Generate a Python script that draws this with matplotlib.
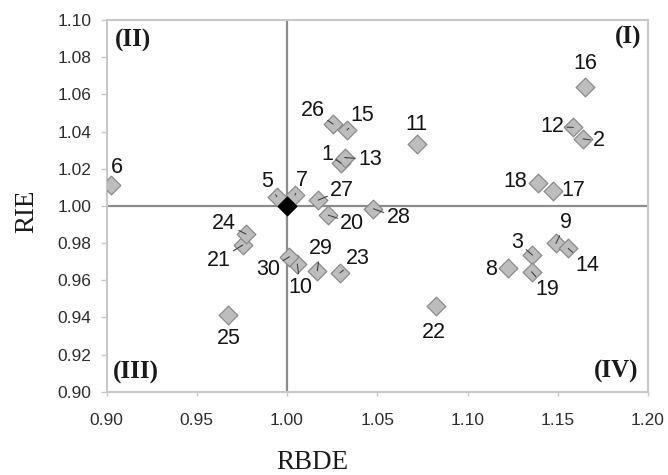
import numpy as np
import matplotlib
matplotlib.use('Agg')
import matplotlib.pyplot as plt

# ── data ───────────────────────────────────────────────────────
labels = ['1', '2', '3', '5', '6', '7', '8', '9', '10', '11', '12', '13', '14', '15',
          '16', '17', '18', '19', '20', '21', '22', '23', '24', '25', '26', '27',
          '28', '29', '30']
rbde = [1.030, 1.164, 1.136, 0.9944, 0.9025, 1.0044, 1.1226, 1.149, 1.0057, 1.0722,
        1.1586, 1.032, 1.1558, 1.0332, 1.1651, 1.1476, 1.1393, 1.1355, 1.0229, 0.9754,
        1.0824, 1.0294, 0.9773, 0.9675, 1.0255, 1.0173, 1.0479, 1.0168, 1.0013]
rie = [1.023, 1.036, 0.9735, 1.0049, 1.0112, 1.0058, 0.9667, 0.9798, 0.9687, 1.0333,
       1.0422, 1.026, 0.9771, 1.0408, 1.0638, 1.0081, 1.0124, 0.9645, 0.995, 0.9789,
       0.9461, 0.964, 0.9848, 0.9412, 1.0440, 1.0031, 0.9984, 0.9651, 0.9726]
ref_x, ref_y = [1.0], [1.0]

x_ticks = [0.90, 0.95, 1.00, 1.05, 1.10, 1.15, 1.20]
y_ticks = [0.90, 0.92, 0.94, 0.96, 0.98, 1.00, 1.02, 1.04, 1.06, 1.08, 1.10]

# label offsets in pixels (dx right, dy up) and whether a leader line is drawn
label_pos = {
    '1': (-14, 9, True), '2': (16, -2, True), '3': (-15, 13, True),
    '5': (-10, 15, True), '6': (6, 18, False), '7': (7, 15, True),
    '8': (-17, -2, False), '9': (10, 21, True), '10': (3, -23, True),
    '11': (-1, 19, False), '12': (-21, 1, True), '13': (25, -2, True),
    '14': (19, -17, True), '15': (15, 15, True), '16': (0, 24, False),
    '17': (20, 0, False), '18': (-23, 1, False), '19': (16, -18, True),
    '20': (24, -8, True), '21': (-24, -15, True), '22': (-2, -26, False),
    '23': (18, 14, True), '24': (-22, 11, True), '25': (0, -23, False),
    '26': (-20, 14, True), '27': (24, 10, True), '28': (25, -9, True),
    '29': (3, 22, True), '30': (-21, -13, True),
}

# ── figure ─────────────────────────────────────────────────────
fig = plt.figure(figsize=(6.68, 4.75), dpi=100)
ax = fig.add_axes([106.5 / 668, 1 - 391.7 / 475, 541.5 / 668, 371.7 / 475])

ax.axvline(1.0, color='#8c8c8c', lw=1.6, zorder=1)
ax.axhline(1.0, color='#8c8c8c', lw=1.6, zorder=1)

ax.scatter(rbde, rie, marker='D', s=9.5 ** 2, facecolor='#bdbdbd',
           edgecolor='#8a8a8a', linewidth=0.9, zorder=3)
ax.scatter(ref_x, ref_y, marker='D', s=9.5 ** 2, facecolor='black',
           edgecolor='black', linewidth=0.9, zorder=4)

for lab, x, y in zip(labels, rbde, rie):
    dx, dy, lead = label_pos[lab]
    arrow = dict(arrowstyle='-', color='#404040', lw=0.8,
                 shrinkA=0, shrinkB=0) if lead else None
    ax.annotate(lab, (x, y), xytext=(dx, dy), textcoords='offset pixels',
                ha='center', va='center', fontsize=15.5,
                family='Liberation Sans', color='#151515',
                arrowprops=arrow, zorder=5)

ax.set_xlim(0.90, 1.20)
ax.set_ylim(0.90, 1.10)
ax.set_xticks(x_ticks)
ax.set_yticks(y_ticks)
ax.set_xticklabels([f'{v:.2f}' for v in x_ticks])
ax.set_yticklabels([f'{v:.2f}' for v in y_ticks])
ax.tick_params(axis='x', direction='out', length=3, width=1, color='#c8c8c8',
               pad=12, labelsize=12.5, labelcolor='#2e2e2e')
ax.tick_params(axis='y', direction='out', length=4, width=1, color='#c8c8c8',
               pad=7, labelsize=12.5, labelcolor='#2e2e2e')
for lbl in ax.get_xticklabels() + ax.get_yticklabels():
    lbl.set_family('Liberation Sans')

for sp in ax.spines.values():
    sp.set_color('#c8c8c8')
    sp.set_linewidth(1.5)

# quadrant labels
qkw = dict(fontsize=18, fontweight='bold', family='Liberation Serif',
           color='#1a1a1a', transform=ax.transAxes, va='center')
ax.text(0.016, 0.944, '(II)', ha='left', **qkw)
ax.text(0.988, 0.952, '(I)', ha='right', **qkw)
ax.text(0.012, 0.053, '(III)', ha='left', **qkw)
ax.text(0.982, 0.054, '(IV)', ha='right', **qkw)

fig.text(27 / 668, 1 - 211 / 475, 'RIE', rotation=90, ha='center', va='center',
         fontsize=19.5, family='Liberation Serif', color='#1a1a1a')
fig.text(312 / 668, 0.012, 'RBDE', ha='center', va='baseline',
         fontsize=19.5, family='Liberation Serif', color='#1a1a1a')

fig.savefig('out.png', dpi=100)
